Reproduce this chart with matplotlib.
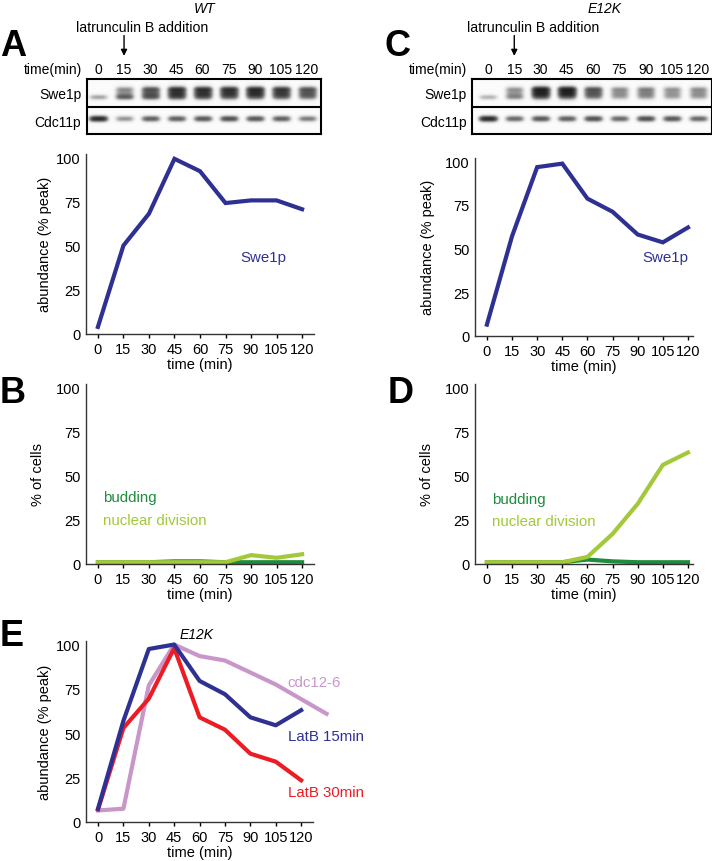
import numpy as np
import matplotlib
matplotlib.use('Agg')
import matplotlib.pyplot as plt

plt.rcParams['font.family'] = ['Liberation Sans', 'DejaVu Sans']
plt.rcParams['font.size'] = 10

W, H = 712, 862

# ---- data ----
times = [0, 15, 30, 45, 60, 75, 90, 105, 120]
lane_labels = ['0', '15', '30', '45', '60', '75', '90', '105', '120']

# Swe1p abundance (% peak)
wt_swe1 = [4, 50, 68, 99, 92, 74, 75.5, 75.5, 70.5]
e12k_swe1 = [6.5, 57, 96.5, 98.5, 78.5, 71, 58, 53.5, 62]

# % of cells
wt_budding = [1, 1, 1, 1.5, 1.5, 1, 1, 1, 1]
wt_nuclear = [1, 1, 1, 1, 1, 1, 5, 3.5, 5.5]
e12k_budding = [1, 1, 1, 1, 2.5, 1.5, 1, 1, 1]
e12k_nuclear = [1, 1, 1, 1, 4, 17, 34, 56, 63]

# panel E
latb15 = [7.5, 57, 97.5, 100, 79.5, 72, 59, 54.5, 63]
latb30 = [7, 53, 69.5, 98, 59, 52, 38.5, 34, 23.5]
cdc12_times = [0, 15, 30, 45, 60, 75, 105, 135]
cdc12 = [6.5, 7.5, 77, 100, 93.5, 91, 77.5, 61]

# blot band intensities (0-1), per lane
wt_swe1_low = [0.3, 0.5, 0.45, 0.45, 0.4, 0.35, 0.35, 0.35, 0.3]
wt_swe1_high = [0.0, 0.3, 0.55, 0.75, 0.75, 0.75, 0.8, 0.7, 0.55]
wt_cdc11 = [1.0, 0.35, 0.6, 0.6, 0.65, 0.7, 0.65, 0.6, 0.45]
e12k_swe1_low = [0.25, 0.3, 0.35, 0.3, 0.25, 0.18, 0.2, 0.18, 0.18]
e12k_swe1_high = [0.0, 0.28, 0.9, 0.9, 0.55, 0.3, 0.35, 0.28, 0.3]
e12k_cdc11 = [1.0, 0.55, 0.65, 0.6, 0.7, 0.55, 0.7, 0.65, 0.55]

BLUE = '#2E3192'
RED = '#ED1C24'
PINK = '#C996CA'
LGREEN = '#A3C93A'
DGREEN = '#1E8C3C'


def px(left, top, right, bottom):
    return [left / W, 1 - bottom / H, (right - left) / W, (bottom - top) / H]


fig = plt.figure(figsize=(W / 100, H / 100), dpi=100)


def blot(box, x0, x1, low, high, cdc):
    ax = fig.add_axes(px(*box))
    xs = np.linspace(x0, x1, 300)
    ys = np.linspace(0, 2, 120)
    X, Y = np.meshgrid(xs, ys)
    img = np.zeros_like(X)
    for i in range(len(low)):
        hx = np.exp(-((X - i) / 0.34) ** 4)
        img += low[i] * hx * np.exp(-((Y - 0.66) / 0.09) ** 2)
        img += high[i] * hx * (np.exp(-((Y - 0.38) / 0.1) ** 2)
                               + 0.8 * np.exp(-((Y - 0.54) / 0.1) ** 2)
                               + 0.25 * np.exp(-((Y - 0.5) / 0.25) ** 2))
        img += cdc[i] * hx * np.exp(-((Y - 1.45) / 0.1) ** 2)
    img = 1 - np.exp(-2.0 * img)
    ax.imshow(img, cmap='Greys', vmin=-0.03, vmax=1.0, aspect='auto',
              extent=(x0, x1, 2, 0), interpolation='bicubic')
    ax.set_xlim(x0, x1)
    ax.set_ylim(2, 0)
    ax.axhline(1, color='black', lw=1.5)
    for s in ax.spines.values():
        s.set_linewidth(1.5)
    ax.xaxis.tick_top()
    ax.set_xticks(range(len(lane_labels)))
    ax.set_xticklabels(lane_labels)
    ax.set_yticks([0.5, 1.5])
    ax.set_yticklabels(['Swe1p', 'Cdc11p'])
    ax.tick_params(length=0, labelsize=10)
    ax.tick_params(axis='x', pad=2)
    ax.tick_params(axis='y', pad=4)
    ax.annotate('', xy=(1, 1.42), xytext=(1, 1.79),
                xycoords=('data', 'axes fraction'),
                textcoords=('data', 'axes fraction'),
                arrowprops=dict(arrowstyle='-|>', color='black', lw=1,
                                mutation_scale=9, shrinkA=0, shrinkB=0))
    return ax


def plot_axes(box, xlim):
    ax = fig.add_axes(px(*box))
    ax.set_xlim(*xlim)
    ax.set_ylim(0, 102)
    ax.spines['top'].set_visible(False)
    ax.spines['right'].set_visible(False)
    for s in ['left', 'bottom']:
        ax.spines[s].set_color('#333333')
        ax.spines[s].set_linewidth(1)
    ax.set_xticks(times)
    ax.set_xticklabels(lane_labels)
    ax.set_yticks([0, 25, 50, 75, 100])
    ax.tick_params(axis='x', length=3, width=1, pad=3, labelsize=10.5)
    ax.tick_params(axis='y', length=0, pad=4, labelsize=10.5)
    ax.set_xlabel('time (min)', fontsize=10.5, labelpad=0.5)
    return ax


# ---- blots ----
blot((86.7, 80, 320.7, 135), -0.43, 8.53, wt_swe1_low, wt_swe1_high, wt_cdc11)
blot((472, 80, 712, 135), -0.61, 8.53, e12k_swe1_low, e12k_swe1_high, e12k_cdc11)

fig.text(82 / W, 1 - 70 / H, 'time(min)', ha='right', va='center', fontsize=10)
fig.text(467 / W, 1 - 70 / H, 'time(min)', ha='right', va='center', fontsize=10)
fig.text(142 / W, 1 - 28 / H, 'latrunculin B addition', ha='center', va='center', fontsize=10.2)
fig.text(533 / W, 1 - 28 / H, 'latrunculin B addition', ha='center', va='center', fontsize=10.2)
fig.text(205 / W, 1 - 9 / H, 'WT', ha='center', va='center', fontsize=10, style='italic')
fig.text(605 / W, 1 - 9 / H, 'E12K', ha='center', va='center', fontsize=10, style='italic')

# panel letters
for lab, x, y in [('A', 0, 47), ('C', 385, 47), ('B', 0, 394), ('D', 388, 394), ('E', 0, 637)]:
    fig.text(x / W, 1 - y / H, lab, ha='left', va='center', fontsize=26, fontweight='heavy')

# ---- A ----
ax = plot_axes((86, 154.5, 314, 335), (-7, 127))
ax.plot(times, wt_swe1, color=BLUE, lw=3, solid_joinstyle='miter')
ax.text(97, 43.5, 'Swe1p', color=BLUE, ha='center', va='center', fontsize=10.8)
ax.set_ylabel('abundance (% peak)', fontsize=10.5, labelpad=3)

# ---- C ----
ax = plot_axes((475, 158.5, 693, 337), (-7.1, 123))
ax.plot(times, e12k_swe1, color=BLUE, lw=3, solid_joinstyle='miter')
ax.text(106.4, 45, 'Swe1p', color=BLUE, ha='center', va='center', fontsize=10.8)
ax.set_ylabel('abundance (% peak)', fontsize=10.5, labelpad=7)

# ---- B ----
ax = plot_axes((86, 384.5, 314, 565), (-7, 127))
ax.plot(times, wt_budding, color=DGREEN, lw=3)
ax.plot(times, wt_nuclear, color=LGREEN, lw=3)
ax.text(3, 38, 'budding', color=DGREEN, ha='left', va='center', fontsize=10.8)
ax.text(3, 25, 'nuclear division', color=LGREEN, ha='left', va='center', fontsize=10.8)
ax.set_ylabel('% of cells', fontsize=10.5, labelpad=8)

# ---- D ----
ax = plot_axes((475, 384.5, 693, 565), (-7.1, 123))
ax.plot(times, e12k_budding, color=DGREEN, lw=3)
ax.plot(times, e12k_nuclear, color=LGREEN, lw=3)
ax.text(3, 37, 'budding', color=DGREEN, ha='left', va='center', fontsize=10.8)
ax.text(3, 24.5, 'nuclear division', color=LGREEN, ha='left', va='center', fontsize=10.8)
ax.set_ylabel('% of cells', fontsize=10.5, labelpad=8)

# ---- E ----
ax = plot_axes((86, 642, 313, 823), (-7.1, 127))
ax.plot(cdc12_times, cdc12, color=PINK, lw=3, clip_on=False)
ax.plot(times, latb30, color=RED, lw=3, clip_on=False)
ax.plot(times, latb15, color=BLUE, lw=3, clip_on=False)
ax.text(112, 79, 'cdc12-6', color=PINK, ha='left', va='center', fontsize=10.8)
ax.text(112, 48.6, 'LatB 15min', color=BLUE, ha='left', va='center', fontsize=10.8)
ax.text(112, 17, 'LatB 30min', color=RED, ha='left', va='center', fontsize=10.8)
ax.set_ylabel('abundance (% peak)', fontsize=10.5, labelpad=3)
fig.text(197 / W, 1 - 635 / H, 'E12K', ha='center', va='center', fontsize=10, style='italic')

fig.savefig('out.png', dpi=100)
